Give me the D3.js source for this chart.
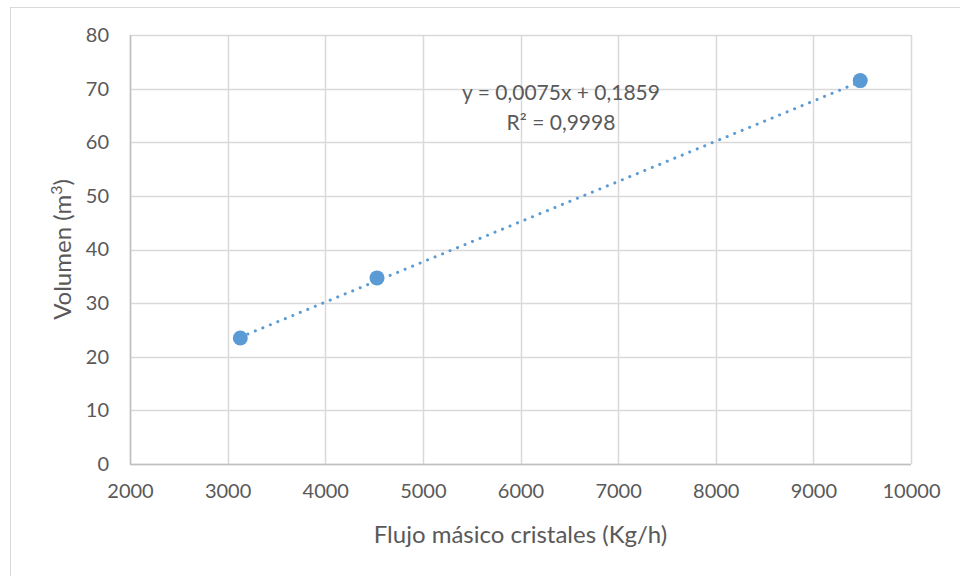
<!DOCTYPE html>
<html>
<head>
<meta charset="utf-8">
<script src="https://cdn.jsdelivr.net/npm/d3@7"></script>
<style>
  body { margin: 0; background: #fff; }
  .text { font-family: "Lato", "Open Sans", sans-serif; fill: #595959; }
</style>
</head>
<body>
<div id="chart"></div>
<script>
const SCREEN_WIDTH = 960, SCREEN_HEIGHT = 576;

// data
const flujo = [3130, 4530, 9480];          // Kg/h
const volumen = [23.5, 34.7, 71.5];        // m3
const xTicks = [2000, 3000, 4000, 5000, 6000, 7000, 8000, 9000, 10000];
const yTicks = [0, 10, 20, 30, 40, 50, 60, 70, 80];
const trendSlope = 0.0075, trendIntercept = 0.1859;
const eqLines = ["y = 0,0075x + 0,1859", "R² = 0,9998"];

const PLOT = {left: 130, right: 911, top: 35, bottom: 464};
const BLUE = "#5B9BD5", GRID = "#D9D9D9";

const svg = d3.select("#chart").append("svg")
    .attr("width", SCREEN_WIDTH)
    .attr("height", SCREEN_HEIGHT);

//chart frame
svg.append("rect")
    .attr("x", 10.5).attr("y", 7.5)
    .attr("width", 1000).attr("height", 1000)
    .attr("fill", "none").attr("stroke", GRID);

const x = d3.scaleLinear().domain([2000, 10000]).range([PLOT.left, PLOT.right]);
const y = d3.scaleLinear().domain([0, 80]).range([PLOT.bottom, PLOT.top]);

//gridlines
svg.append("g").selectAll("line").data(yTicks).join("line")
    .attr("x1", PLOT.left).attr("x2", PLOT.right)
    .attr("y1", d => Math.round(y(d)) + 0.5).attr("y2", d => Math.round(y(d)) + 0.5)
    .attr("stroke", GRID).attr("stroke-width", 1.5);

svg.append("g").selectAll("line").data(xTicks).join("line")
    .attr("y1", PLOT.top).attr("y2", PLOT.bottom)
    .attr("x1", d => Math.round(x(d)) + 0.5).attr("x2", d => Math.round(x(d)) + 0.5)
    .attr("stroke", GRID).attr("stroke-width", 1.5);

//axes (labels only)
const xAxis = svg.append("g")
    .attr("transform", `translate(0,${PLOT.bottom})`)
    .call(d3.axisBottom(x).tickValues(xTicks).tickFormat(d3.format("d")).tickSize(0).tickPadding(20));
const yAxis = svg.append("g")
    .attr("transform", `translate(${PLOT.left},0)`)
    .call(d3.axisLeft(y).tickValues(yTicks).tickFormat(d3.format("d")).tickSize(0).tickPadding(21));
[xAxis, yAxis].forEach(a => {
    a.select(".domain").remove();
    a.selectAll("text").attr("class", "text").style("font-size", "20px");
});

//axis lines
svg.append("line")
    .attr("x1", PLOT.left).attr("x2", PLOT.right)
    .attr("y1", PLOT.bottom + 0.5).attr("y2", PLOT.bottom + 0.5)
    .attr("stroke", "#BFBFBF").attr("stroke-width", 1.5);
svg.append("line")
    .attr("x1", PLOT.left + 0.5).attr("x2", PLOT.left + 0.5)
    .attr("y1", PLOT.top).attr("y2", PLOT.bottom)
    .attr("stroke", "#BFBFBF").attr("stroke-width", 1.5);

//trendline
const xMin = d3.min(flujo), xMax = d3.max(flujo);
svg.append("line")
    .attr("x1", x(xMin)).attr("y1", y(trendSlope * xMin + trendIntercept))
    .attr("x2", x(xMax)).attr("y2", y(trendSlope * xMax + trendIntercept))
    .attr("stroke", BLUE).attr("stroke-width", 3)
    .attr("stroke-linecap", "round")
    .attr("stroke-dasharray", "0.1 8");

//points
svg.append("g").selectAll("circle").data(flujo).join("circle")
    .attr("cx", d => x(d))
    .attr("cy", (d, i) => y(volumen[i]))
    .attr("r", 7.5)
    .attr("fill", BLUE);

//equation
svg.append("text")
    .attr("class", "text")
    .attr("x", 561).attr("y", 100)
    .style("font-size", "21px")
    .style("text-anchor", "middle")
    .text(eqLines[0]);
svg.append("text")
    .attr("class", "text")
    .attr("x", 561).attr("y", 130)
    .style("font-size", "21px")
    .style("text-anchor", "middle")
    .text(eqLines[1]);

//axis titles
svg.append("text")
    .attr("class", "text")
    .attr("x", (PLOT.left + PLOT.right) / 2).attr("y", 543)
    .style("font-size", "24px")
    .style("text-anchor", "middle")
    .text("Flujo másico cristales (Kg/h)");

const yTitle = svg.append("text")
    .attr("class", "text")
    .attr("transform", `translate(71,${(PLOT.top + PLOT.bottom) / 2}) rotate(-90)`)
    .style("font-size", "24px")
    .style("text-anchor", "middle");
yTitle.append("tspan").text("Volumen (m");
yTitle.append("tspan").attr("dy", -9).style("font-size", "16px").text("3");
yTitle.append("tspan").attr("dy", 9).text(")");
</script>
</body>
</html>
